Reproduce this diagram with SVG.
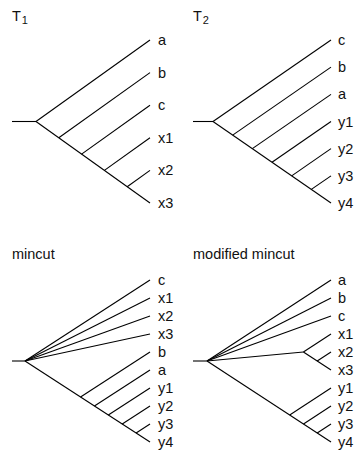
<svg xmlns="http://www.w3.org/2000/svg" width="355" height="450" viewBox="0 0 355 450">
  <style>
    .edge { stroke: #000; stroke-width: 1.1; fill: none; stroke-linecap: butt; }
    text { font-family: "Liberation Sans", Arial, sans-serif; font-size: 14.5px; fill: #111; }
    .sub { font-size: 11px; }
  </style>
  <rect width="355" height="450" fill="#fff"/>

  <!-- Tree T1 -->
  <g id="tree-t1">
    <text x="12" y="21">T<tspan class="sub" dx="1" dy="3">1</tspan></text>
    <g id="t1-edges" class="edge">
      <line x1="12" y1="121.5" x2="36" y2="121.5"/>
      <line x1="36" y1="121.5" x2="150" y2="40"/>
      <line x1="36" y1="121.5" x2="150" y2="203"/>
      <line x1="58.8" y1="137.8" x2="150" y2="72.6"/>
      <line x1="81.6" y1="154.1" x2="150" y2="105.2"/>
      <line x1="104.4" y1="170.4" x2="150" y2="137.8"/>
      <line x1="127.2" y1="186.7" x2="150" y2="170.4"/>
    </g>
    <g id="t1-leaves">
      <text x="158" y="45">a</text>
      <text x="158" y="77.6">b</text>
      <text x="158" y="110.2">c</text>
      <text x="158" y="142.8">x1</text>
      <text x="158" y="175.4">x2</text>
      <text x="158" y="208">x3</text>
    </g>
  </g>

  <!-- Tree T2 -->
  <g id="tree-t2">
    <text x="193" y="21">T<tspan class="sub" dx="1" dy="3">2</tspan></text>
    <g id="t2-edges" class="edge">
      <line x1="193" y1="121.5" x2="213" y2="121.5"/>
      <line x1="213" y1="121.5" x2="331" y2="40"/>
      <line x1="213" y1="121.5" x2="331" y2="203"/>
      <line x1="232.67" y1="135.08" x2="331" y2="67.17"/>
      <line x1="252.33" y1="148.67" x2="331" y2="94.33"/>
      <line x1="272" y1="162.25" x2="331" y2="121.5"/>
      <line x1="291.67" y1="175.83" x2="331" y2="148.67"/>
      <line x1="311.33" y1="189.42" x2="331" y2="175.83"/>
    </g>
    <g id="t2-leaves">
      <text x="338" y="45">c</text>
      <text x="338" y="72.2">b</text>
      <text x="338" y="99.3">a</text>
      <text x="338" y="126.5">y1</text>
      <text x="338" y="153.7">y2</text>
      <text x="338" y="180.8">y3</text>
      <text x="338" y="208">y4</text>
    </g>
  </g>

  <!-- Mincut tree -->
  <g id="tree-mincut">
    <text x="12" y="259">mincut</text>
    <g id="mincut-edges" class="edge">
      <line x1="12" y1="361" x2="25" y2="361"/>
      <line x1="25" y1="361" x2="150" y2="280"/>
      <line x1="25" y1="361" x2="150" y2="298"/>
      <line x1="25" y1="361" x2="150" y2="316"/>
      <line x1="25" y1="361" x2="150" y2="334"/>
      <line x1="25" y1="361" x2="150" y2="442"/>
      <line x1="80.56" y1="397" x2="150" y2="352"/>
      <line x1="94.44" y1="406" x2="150" y2="370"/>
      <line x1="108.33" y1="415" x2="150" y2="388"/>
      <line x1="122.22" y1="424" x2="150" y2="406"/>
      <line x1="136.11" y1="433" x2="150" y2="424"/>
    </g>
    <g id="mincut-leaves">
      <text x="158" y="285">c</text>
      <text x="158" y="303">x1</text>
      <text x="158" y="321">x2</text>
      <text x="158" y="339">x3</text>
      <text x="158" y="357">b</text>
      <text x="158" y="375">a</text>
      <text x="158" y="393">y1</text>
      <text x="158" y="411">y2</text>
      <text x="158" y="429">y3</text>
      <text x="158" y="447">y4</text>
    </g>
  </g>

  <!-- Modified mincut tree -->
  <g id="tree-modified-mincut">
    <text x="193" y="259">modified mincut</text>
    <g id="modified-edges" class="edge">
      <line x1="193" y1="361" x2="207" y2="361"/>
      <line x1="207" y1="361" x2="331" y2="280"/>
      <line x1="207" y1="361" x2="331" y2="298"/>
      <line x1="207" y1="361" x2="331" y2="316"/>
      <line x1="207" y1="361" x2="303.4" y2="352"/>
      <line x1="303.4" y1="352" x2="331" y2="334"/>
      <line x1="303.4" y1="352" x2="331" y2="370"/>
      <line x1="317.2" y1="361" x2="331" y2="352"/>
      <line x1="207" y1="361" x2="331" y2="442"/>
      <line x1="289.7" y1="415" x2="331" y2="388"/>
      <line x1="303.5" y1="424" x2="331" y2="406"/>
      <line x1="317.2" y1="433" x2="331" y2="424"/>
    </g>
    <g id="modified-leaves">
      <text x="338" y="285">a</text>
      <text x="338" y="303">b</text>
      <text x="338" y="321">c</text>
      <text x="338" y="339">x1</text>
      <text x="338" y="357">x2</text>
      <text x="338" y="375">x3</text>
      <text x="338" y="393">y1</text>
      <text x="338" y="411">y2</text>
      <text x="338" y="429">y3</text>
      <text x="338" y="447">y4</text>
    </g>
  </g>
</svg>
